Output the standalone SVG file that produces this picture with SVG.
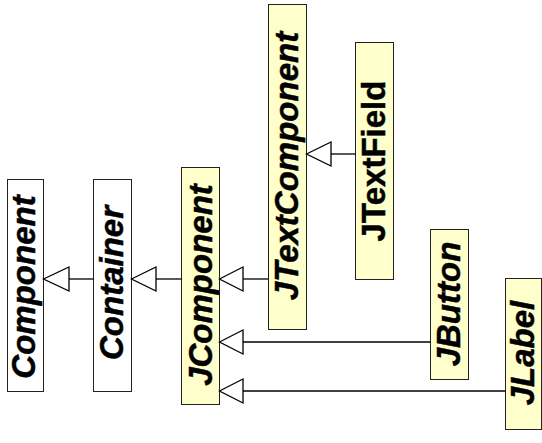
<svg xmlns="http://www.w3.org/2000/svg" width="542" height="443" viewBox="0 0 542 443">
  <defs>
    <style>
      .box { stroke: #222; stroke-width: 1; }
      .plain { fill: #ffffff; }
      .swing { fill: #ffffcc; }
      .label { font-family: "Liberation Sans", Arial, sans-serif; font-size: 33px; font-weight: bold; font-style: italic; fill: #000; stroke: #000; stroke-width: 0.5; text-anchor: middle; }
      .upright { font-style: normal; }
      .edge { stroke: #000; stroke-width: 1.3; fill: none; }
      .head { fill: #fff; stroke: #000; stroke-width: 1.3; stroke-linejoin: miter; }
    </style>
  </defs>

  <!-- class boxes; labels run bottom-to-top -->
  <g id="Component">
    <rect class="box plain" x="7.5" y="179.5" width="36" height="212"/>
    <text class="label" transform="translate(35,287) rotate(-90)">Component</text>
  </g>
  <g id="Container">
    <rect class="box plain" x="93.5" y="179.5" width="38" height="212"/>
    <text class="label" transform="translate(123,283) rotate(-90)">Container</text>
  </g>
  <g id="JComponent">
    <rect class="box swing" x="181.5" y="167.5" width="38" height="237"/>
    <text class="label" transform="translate(212,285) rotate(-90)">JComponent</text>
  </g>
  <g id="JTextComponent">
    <rect class="box swing" x="268.5" y="4.5" width="38" height="325"/>
    <text class="label" transform="translate(298,166) rotate(-90)">JTextComponent</text>
  </g>
  <g id="JTextField">
    <rect class="box swing" x="355.5" y="42.5" width="38" height="237"/>
    <text class="label upright" transform="translate(385,161) rotate(-90)">JTextField</text>
  </g>
  <g id="JButton">
    <rect class="box swing" x="430.5" y="229.5" width="38" height="150"/>
    <text class="label" transform="translate(460,304) rotate(-90)">JButton</text>
  </g>
  <g id="JLabel">
    <rect class="box swing" x="505.5" y="278.5" width="36" height="151"/>
    <text class="label" transform="translate(534,353) rotate(-90)">JLabel</text>
  </g>

  <!-- generalization connectors with hollow triangle heads -->
  <g id="connectors">
    <line class="edge" x1="69" y1="279" x2="93.5" y2="279"/>
    <polygon class="head" points="43.5,279 69,267 69,291"/>

    <line class="edge" x1="156" y1="279" x2="181.5" y2="279"/>
    <polygon class="head" points="131.5,279 156,267 156,291"/>

    <line class="edge" x1="243" y1="279" x2="268.5" y2="279"/>
    <polygon class="head" points="219.5,279 243,267 243,291"/>

    <line class="edge" x1="331" y1="154" x2="355.5" y2="154"/>
    <polygon class="head" points="306.5,154 331,142 331,166"/>

    <line class="edge" x1="243" y1="342" x2="430.5" y2="342"/>
    <polygon class="head" points="219.5,342 243,330 243,354"/>

    <line class="edge" x1="243" y1="391" x2="505.5" y2="391"/>
    <polygon class="head" points="219.5,391 243,379 243,403"/>
  </g>
</svg>
